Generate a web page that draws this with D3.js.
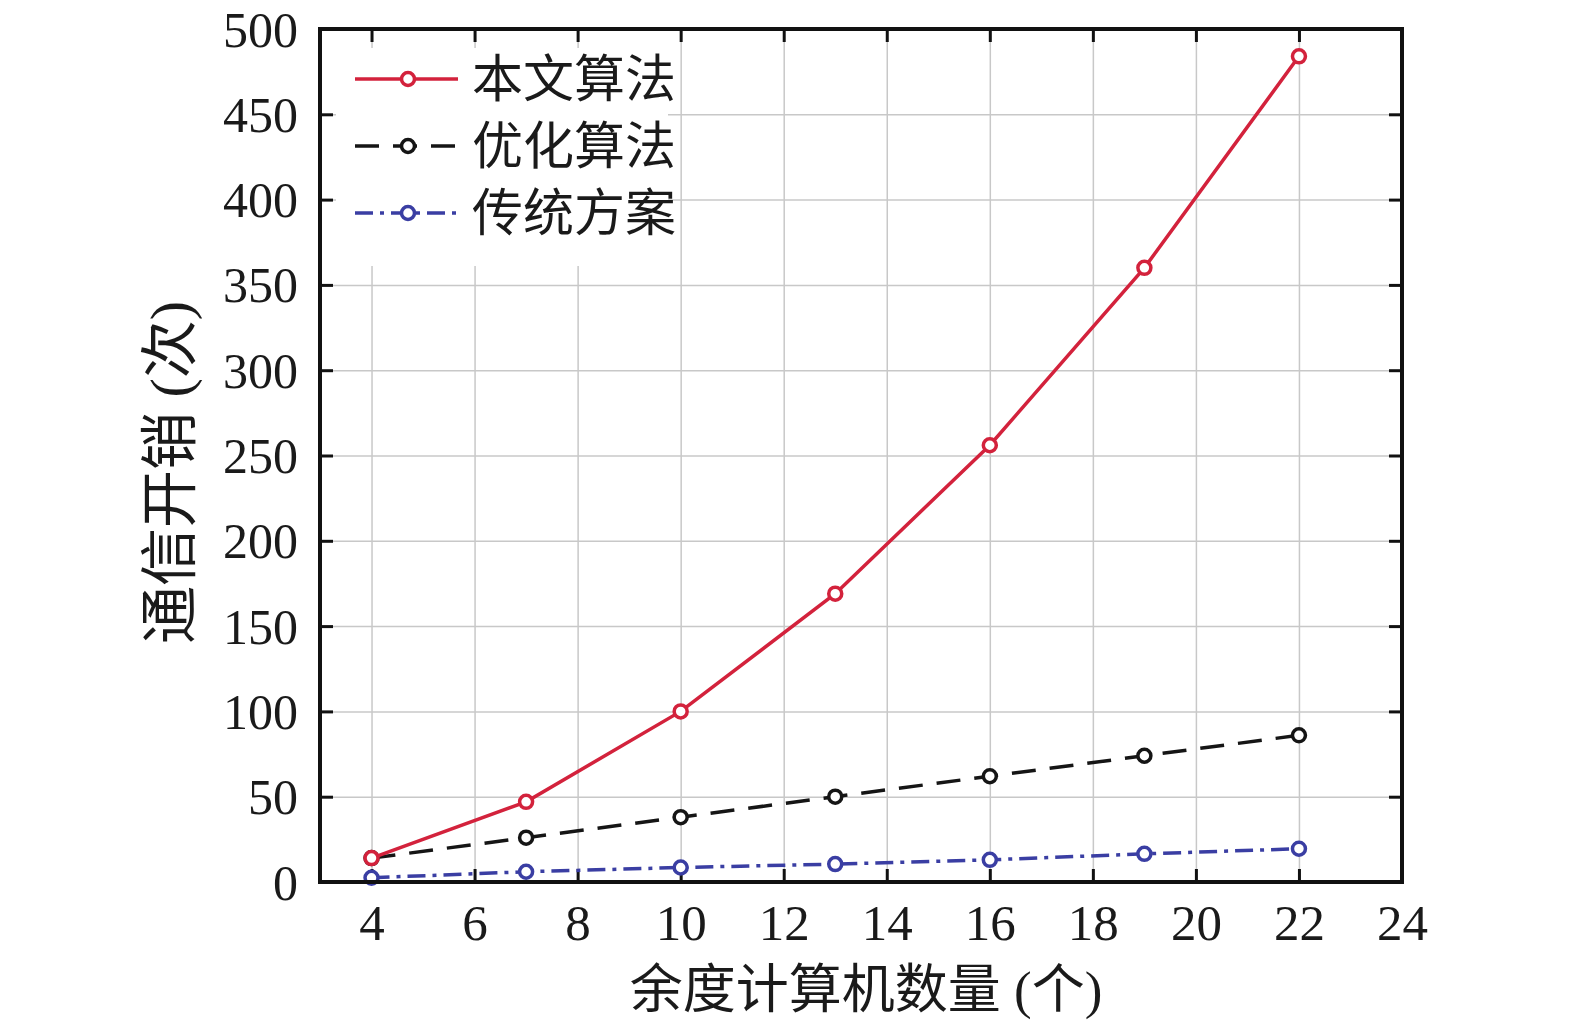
<!DOCTYPE html>
<html>
    <head>
        <meta charset="utf-8">
        <title>通信开销</title>
        <script src="https://d3js.org/d3.v7.min.js"></script>
        <style>
            body { margin: 0; background: #fff; }
            text { font-family: 'Liberation Serif', 'Noto Sans CJK SC', serif; fill: #1a1a1a; }
            .grid line { stroke: #c8c8c8; stroke-width: 1.5px; }
            .grid path { display: none; }
            .axis path { display: none; }
            .axis line { stroke: #111; stroke-width: 3px; }
        </style>
    </head>
    <body>
        <div id="chart"></div>
        <script>
            // data
            const nodes = [4, 7, 10, 13, 16, 19, 22];
            const ours = [14, 47, 100, 169, 256, 360, 484];
            const optimized = [14, 26, 38, 50, 62, 74, 86];
            const traditional = [2.5, 6, 8.5, 10.5, 13, 16.5, 19.5];
            const seriesNames = ['本文算法', '优化算法', '传统方案'];
            const xTicks = [4, 6, 8, 10, 12, 14, 16, 18, 20, 22, 24];
            const yTicks = [0, 50, 100, 150, 200, 250, 300, 350, 400, 450, 500];

            const svgWidth = 1575, svgHeight = 1026;
            const margin = { top: 29, right: 173, bottom: 144, left: 320 };
            const width = svgWidth - margin.left - margin.right;
            const height = svgHeight - margin.top - margin.bottom;

            const svg = d3.select('#chart').append('svg')
                .attr('width', svgWidth)
                .attr('height', svgHeight);
            const g = svg.append('g')
                .attr('transform', 'translate(' + margin.left + ',' + margin.top + ')');

            const x = d3.scaleLinear().domain([3, 24]).range([0, width]);
            const y = d3.scaleLinear().domain([0, 500]).range([height, 0]);

            // grid
            g.append('g').attr('class', 'grid')
                .attr('transform', 'translate(0,' + height + ')')
                .call(d3.axisBottom(x).tickValues(xTicks).tickSize(-height).tickFormat(''));
            g.append('g').attr('class', 'grid')
                .call(d3.axisLeft(y).tickValues(yTicks).tickSize(-width).tickFormat(''));

            // axes with inward ticks on all sides
            const tick = 13;
            const xb = g.append('g').attr('class', 'axis')
                .attr('transform', 'translate(0,' + height + ')')
                .call(d3.axisBottom(x).tickValues(xTicks).tickSize(-tick).tickPadding(22));
            xb.selectAll('text').style('font-size', '51px').attr('dy', '0.71em');
            g.append('g').attr('class', 'axis')
                .call(d3.axisTop(x).tickValues(xTicks).tickSize(-tick).tickFormat(''));
            const yl = g.append('g').attr('class', 'axis')
                .call(d3.axisLeft(y).tickValues(yTicks).tickSize(-tick).tickPadding(22));
            yl.selectAll('text').style('font-size', '50px').attr('dy', '0.34em');
            g.append('g').attr('class', 'axis')
                .attr('transform', 'translate(' + width + ',0)')
                .call(d3.axisRight(y).tickValues(yTicks).tickSize(-tick).tickFormat(''));

            const series = [
                { name: seriesNames[0], values: ours, color: '#d3223c', dash: null },
                { name: seriesNames[1], values: optimized, color: '#151515', dash: '24,14' },
                { name: seriesNames[2], values: traditional, color: '#3a3ea3', dash: '18,7,4,7' }
            ];

            const line = d3.line()
                .x((d, i) => x(nodes[i]))
                .y(d => y(d));

            // draw bottom-up so red sits on top
            series.slice().reverse().forEach(function (s) {
                g.append('path')
                    .datum(s.values)
                    .attr('d', line)
                    .attr('fill', 'none')
                    .attr('stroke', s.color)
                    .attr('stroke-width', 3.5)
                    .attr('stroke-dasharray', s.dash);
                g.selectAll(null)
                    .data(s.values)
                    .enter()
                    .append('circle')
                    .attr('cx', (d, i) => x(nodes[i]))
                    .attr('cy', d => y(d))
                    .attr('r', 6.5)
                    .attr('fill', '#fff')
                    .attr('stroke', s.color)
                    .attr('stroke-width', 3.5);
            });

            // legend
            const legend = g.append('g');
            legend.append('rect')
                .attr('x', 16).attr('y', 19)
                .attr('width', 332).attr('height', 218)
                .attr('fill', '#fff');
            series.forEach(function (s, i) {
                const ly = 50 + i * 67;
                legend.append('line')
                    .attr('x1', 35).attr('x2', 138)
                    .attr('y1', ly).attr('y2', ly)
                    .attr('stroke', s.color)
                    .attr('stroke-width', 3.5)
                    .attr('stroke-dasharray', s.dash);
                legend.append('circle')
                    .attr('cx', 88).attr('cy', ly).attr('r', 6.5)
                    .attr('fill', '#fff')
                    .attr('stroke', s.color)
                    .attr('stroke-width', 3.5);
                legend.append('text')
                    .attr('x', 152).attr('y', ly)
                    .attr('dy', '0.36em')
                    .style('font-size', '51px')
                    .text(s.name);
            });

            // frame
            g.append('rect')
                .attr('width', width).attr('height', height)
                .attr('fill', 'none')
                .attr('stroke', '#111')
                .attr('stroke-width', 4);

            // axis titles
            svg.append('text')
                .attr('x', margin.left + x(13.6))
                .attr('y', 1008)
                .attr('text-anchor', 'middle')
                .style('font-size', '53px')
                .text('余度计算机数量 (个)');
            svg.append('text')
                .attr('transform', 'translate(190,' + (margin.top + y(240)) + ') rotate(-90)')
                .attr('text-anchor', 'middle')
                .style('font-size', '58px')
                .text('通信开销 (次)');
        </script>
    </body>
</html>
